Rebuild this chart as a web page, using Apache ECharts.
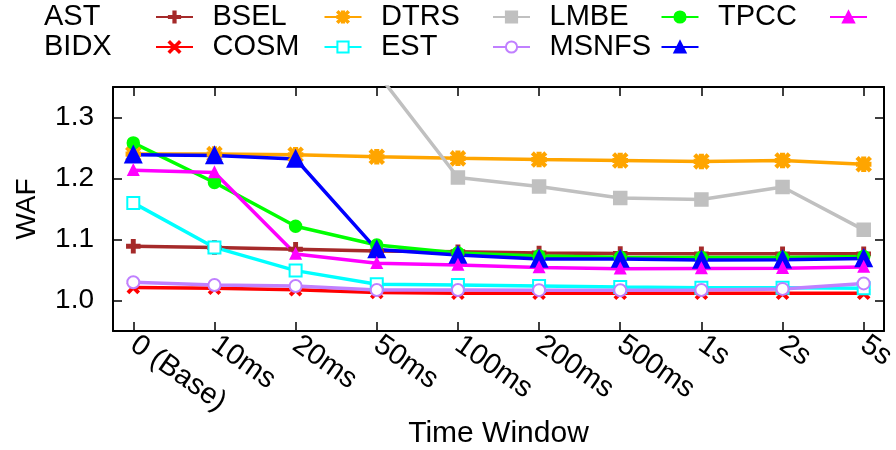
<!DOCTYPE html>
<html>
<head>
<meta charset="utf-8">
<script src="https://cdn.jsdelivr.net/npm/echarts@6/dist/echarts.min.js"></script>
<style>html,body{margin:0;padding:0;background:#fff}#c{width:896px;height:450px}</style>
</head>
<body>
<div id="c"></div>
<script>
var categories = ['0 (Base)','10ms','20ms','50ms','100ms','200ms','500ms','1s','2s','5s'];
var yTicks = [1.0, 1.1, 1.2, 1.3];
var AST   = [1.089, 1.087, 1.084, 1.081, 1.080, 1.078, 1.077, 1.0765, 1.0765, 1.0765];
var BIDX  = [1.0215, 1.020, 1.0175, 1.013, 1.012, 1.012, 1.0118, 1.0118, 1.0118, 1.0118];
var BSEL  = [1.240, 1.240, 1.239, 1.2355, 1.233, 1.231, 1.2295, 1.228, 1.2295, 1.2234];
var COSM  = [1.160, 1.087, 1.049, 1.0265, 1.0254, 1.0238, 1.022, 1.021, 1.021, 1.020];
var DTRS  = [1.52, 1.47, 1.42, 1.374, 1.2016, 1.187, 1.168, 1.1656, 1.186, 1.1158];
var EST   = [1.030, 1.0255, 1.0238, 1.0172, 1.0172, 1.017, 1.0168, 1.0172, 1.019, 1.028];
var LMBE  = [1.2584, 1.1934, 1.1218, 1.091, 1.078, 1.073, 1.071, 1.0705, 1.0705, 1.072];
var MSNFS = [1.2388, 1.2377, 1.232, 1.0835, 1.0746, 1.068, 1.068, 1.0665, 1.067, 1.069];
var TPCC  = [1.2136, 1.2098, 1.0762, 1.061, 1.058, 1.054, 1.052, 1.0525, 1.053, 1.055];

var FONT = '"Liberation Sans", Arial, sans-serif';
var PLUS = 'path://M4,0h2v4h4v2h-4v4h-2v-4h-4v-2h4z';
var CROSS = 'path://M1,0L5,4L9,0L10,1L6,5L10,9L9,10L5,6L1,10L0,9L4,5L0,1Z';
var STAR = 'path://M4,0h2v4h4v2h-4v4h-2v-4h-4v-2h4zM1,0L5,4L9,0L10,1L6,5L10,9L9,10L5,6L1,10L0,9L4,5L0,1Z';

var defs = [
  {name:'AST', data:AST, color:'#a52a2a', symbol:PLUS, size:12},
  {name:'BIDX', data:BIDX, color:'#ff0000', symbol:CROSS, size:10},
  {name:'BSEL', data:BSEL, color:'#ffa500', symbol:STAR, size:13},
  {name:'COSM', data:COSM, color:'#00ffff', symbol:'emptyRect', size:12},
  {name:'DTRS', data:DTRS, color:'#c0c0c0', symbol:'rect', size:12},
  {name:'EST', data:EST, color:'#c080ff', symbol:'emptyCircle', size:12},
  {name:'LMBE', data:LMBE, color:'#00ff00', symbol:'circle', size:11},
  {name:'MSNFS', data:MSNFS, color:'#0000ff', symbol:'triangle', size:15},
  {name:'TPCC', data:TPCC, color:'#ff00ff', symbol:'triangle', size:9}
];

var series = defs.map(function(d){
  return {
    name: d.name, type: 'line', xAxisIndex: 0, yAxisIndex: 0,
    data: d.data.map(function(v, i){ return [i, v]; }),
    symbol: d.symbol, symbolSize: d.size, showAllSymbols: true,
    lineStyle: {color: d.color, width: 3.5},
    itemStyle: {color: d.color, borderColor: d.color, borderWidth: 2.5},
    emphasis: {disabled: true}, animation: false, clip: true
  };
});

var xIdx = categories.map(function(c, i){ return i; });
var legendText = {
  fontFamily: FONT, fontSize: 29, color: '#000', lineHeight: 30,
  rich: {a: {fontFamily: FONT, fontSize: 29, color: '#000', width: 107, align: 'left', lineHeight: 30}}
};
var legendFmt = function(n){ return '{a|' + n + '}'; };

var option = {
  backgroundColor: '#fff',
  animation: false,
  grid: {left: 113, right: 12, top: 87, bottom: 119, containLabel: false, outerBoundsMode: 'none'},
  legend: [
    {data: ['AST','BSEL','DTRS','LMBE','TPCC'], left: 44, top: 2, padding: 0, align: 'right',
     itemWidth: 37, itemHeight: 14, itemGap: 18.5, textStyle: legendText, formatter: legendFmt, selectedMode: false},
    {data: ['BIDX','COSM','EST','MSNFS'], left: 44, top: 32, padding: 0, align: 'right',
     itemWidth: 37, itemHeight: 14, itemGap: 18.5, textStyle: legendText, formatter: legendFmt, selectedMode: false}
  ],
  xAxis: [
    {type: 'value', min: -0.25, max: 9.25, position: 'bottom',
     name: 'Time Window', nameLocation: 'middle', nameGap: 88, nameMoveOverlap: false,
     nameTextStyle: {fontFamily: FONT, fontSize: 30, color: '#000'},
     axisLine: {show: true, onZero: false, lineStyle: {color: '#000', width: 2}},
     axisTick: {show: true, inside: true, length: 9, customValues: xIdx, lineStyle: {color: '#000', width: 1.5}},
     axisLabel: {show: true, customValues: xIdx, rotate: -35, margin: 11,
       fontFamily: FONT, fontSize: 29, color: '#000',
       formatter: function(v){ return categories[Math.round(v)]; }},
     splitLine: {show: false}},
    {type: 'value', min: -0.25, max: 9.25, position: 'top',
     axisLine: {show: true, onZero: false, lineStyle: {color: '#000', width: 2}},
     axisTick: {show: true, inside: true, length: 9, customValues: xIdx, lineStyle: {color: '#000', width: 1.5}},
     axisLabel: {show: false}, splitLine: {show: false}}
  ],
  yAxis: [
    {type: 'value', min: 0.95, max: 1.35, position: 'left',
     name: 'WAF', nameLocation: 'middle', nameGap: 72, nameRotate: 90, nameMoveOverlap: false,
     nameTextStyle: {fontFamily: FONT, fontSize: 28, color: '#000'},
     axisLine: {show: true, onZero: false, lineStyle: {color: '#000', width: 2}},
     axisTick: {show: true, inside: true, length: 9, customValues: yTicks, lineStyle: {color: '#000', width: 1.5}},
     axisLabel: {show: true, customValues: yTicks, margin: 19, fontFamily: FONT, fontSize: 28, color: '#000',
       formatter: function(v){ return v.toFixed(1); }},
     splitLine: {show: false}},
    {type: 'value', min: 0.95, max: 1.35, position: 'right',
     axisLine: {show: true, onZero: false, lineStyle: {color: '#000', width: 2}},
     axisTick: {show: true, inside: true, length: 9, customValues: yTicks, lineStyle: {color: '#000', width: 1.5}},
     axisLabel: {show: false}, splitLine: {show: false}}
  ],
  series: series
};

var chart = echarts.init(document.getElementById('c'), null, {renderer: 'canvas'});
chart.setOption(option);
</script>
</body>
</html>
